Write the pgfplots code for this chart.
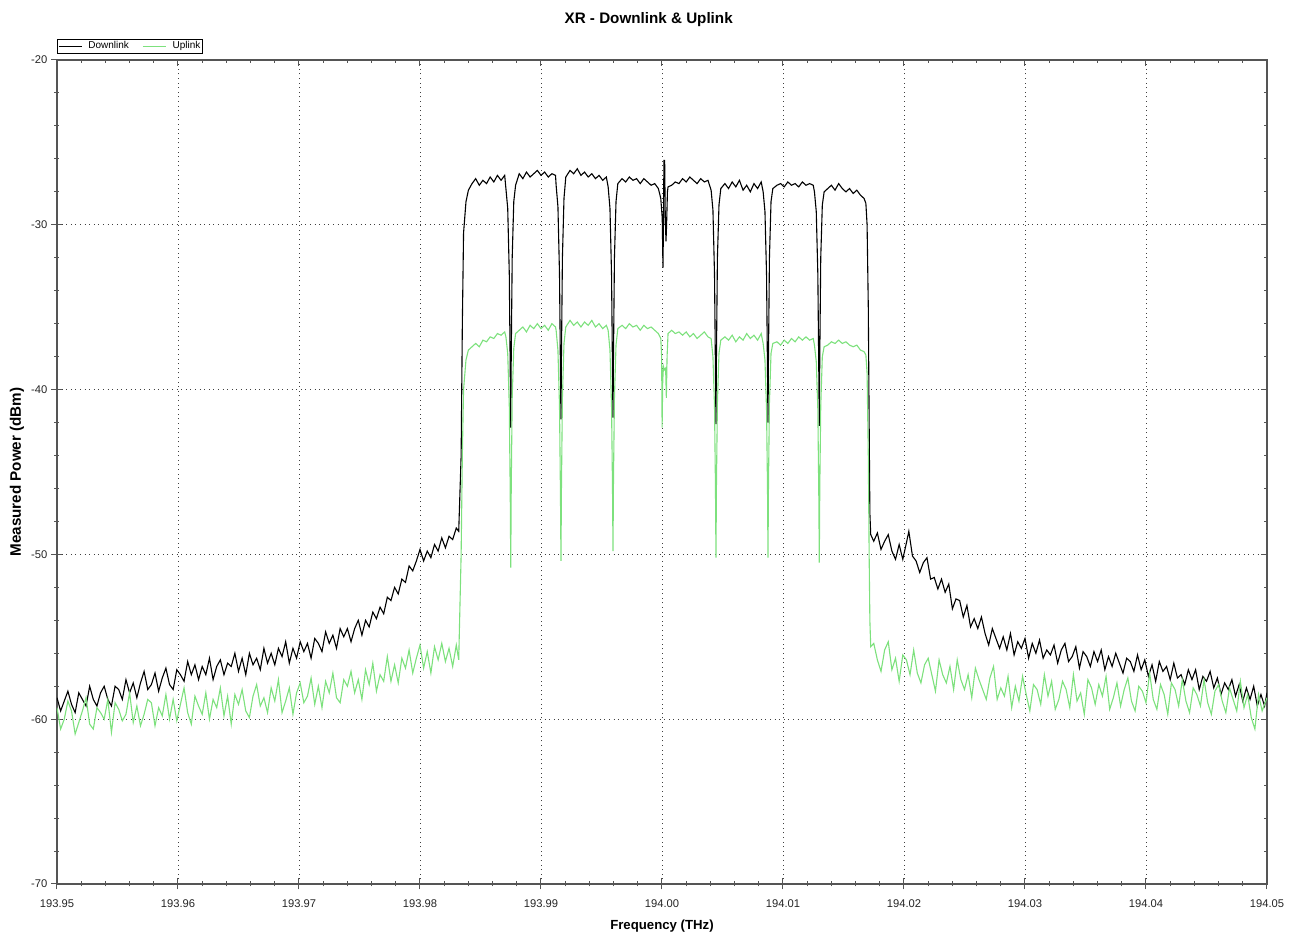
\documentclass[border=0pt]{standalone}
\usepackage{fontspec}
\setmainfont{Liberation Sans}
\usepackage{pgfplots}
\pgfplotsset{compat=1.18}
\definecolor{uplink}{RGB}{125,225,125}
\definecolor{axisgray}{RGB}{85,85,85}

\begin{document}
\begin{tikzpicture}
\useasboundingbox (-28.5pt,-26.5pt) rectangle (620.5pt,442pt);
% x is in GHz relative to 194.00 THz (keeps pgfplots precision)
\begin{axis}[
  scale only axis, width=605pt, height=412pt,
  xmin=-50, xmax=50, ymin=-70, ymax=-20,
  xtick={-50,-40,-30,-20,-10,0,10,20,30,40,50},
  xticklabels={193.95,193.96,193.97,193.98,193.99,194.00,194.01,194.02,194.03,194.04,194.05},
  ytick={-70,-60,-50,-40,-30,-20},
  yticklabels={-70,-60,-50,-40,-30,-20},
  minor x tick num=4, minor y tick num=4,
  tick pos=left,
  tick align=center,
  major tick length=5.5pt, minor tick length=2.5pt,
  tick style={axisgray, line width=0.5pt},
  axis line style={axisgray, line width=0.8pt},
  grid=major,
  grid style={black!75, line width=0.4pt, dash pattern=on 0.5pt off 1.8pt},
  tick label style={font=\fontsize{5.6}{6.5}\selectfont, text=black!85},
  xticklabel style={anchor=base, yshift=-9pt},
  yticklabel style={anchor=east, xshift=1.5pt},
  title={XR - Downlink \& Uplink},
  title style={font=\bfseries\fontsize{7.6}{9}\selectfont, at={(0.489,1)}, anchor=base, yshift=12pt},
  xlabel={Frequency (THz)},
  xlabel style={font=\bfseries\fontsize{6.6}{8}\selectfont, at={(0.5,0)}, anchor=base, yshift=-23pt},
  ylabel={Measured Power (dBm)},
  ylabel style={font=\bfseries\fontsize{7.6}{9}\selectfont, at={(0,0.5)}, anchor=center, yshift=20pt},
  legend style={at={(0,1)}, anchor=south west, yshift=3pt, draw=black, line width=0.4pt,
    font=\fontsize{5}{5.5}\selectfont, inner sep=0.3pt, row sep=0pt,
    nodes={inner sep=0.6pt},
    /tikz/every odd column/.append style={column sep=2.5pt},
    /tikz/every even column/.append style={column sep=6pt}},
  legend columns=2,
  legend image code/.code={\draw[#1, line width=0.6pt] (0pt,0pt) -- (11.5pt,0pt);},
]
% Downlink
\addplot[black, line width=0.55pt] coordinates {
(-50.0,-58.7) (-49.7,-59.5) (-49.4,-58.9) (-49.1,-58.3) (-48.8,-59.1) (-48.5,-59.6) (-48.2,-58.4) (-47.9,-58.8)
(-47.6,-59.2) (-47.3,-58.0) (-47.0,-58.8) (-46.7,-59.2) (-46.4,-58.4) (-46.1,-58.0) (-45.8,-58.8) (-45.5,-59.2)
(-45.2,-58.0) (-44.9,-58.2) (-44.6,-58.8) (-44.3,-57.6) (-44.0,-58.4) (-43.7,-57.8) (-43.4,-58.7) (-43.1,-57.8)
(-42.8,-57.1) (-42.5,-58.2) (-42.2,-57.9) (-41.9,-57.2) (-41.6,-58.3) (-41.3,-57.5) (-41.0,-56.9) (-40.7,-57.9)
(-40.4,-58.2) (-40.1,-57.0) (-39.8,-57.3) (-39.5,-57.7) (-39.2,-56.5) (-38.9,-57.3) (-38.6,-56.7) (-38.3,-57.6)
(-38.0,-56.8) (-37.7,-57.3) (-37.4,-56.3) (-37.1,-57.6) (-36.8,-56.8) (-36.5,-56.4) (-36.2,-57.3) (-35.9,-56.6)
(-35.6,-56.8) (-35.3,-56.0) (-35.0,-57.1) (-34.7,-56.3) (-34.4,-57.3) (-34.1,-56.0) (-33.8,-56.7) (-33.5,-56.3)
(-33.2,-57.0) (-32.9,-55.7) (-32.6,-56.6) (-32.3,-56.0) (-32.0,-56.7) (-31.7,-55.7) (-31.4,-56.2) (-31.1,-55.3)
(-30.8,-56.6) (-30.5,-55.7) (-30.2,-56.3) (-29.9,-55.3) (-29.6,-55.9) (-29.3,-55.4) (-29.0,-56.3) (-28.7,-55.1)
(-28.4,-55.4) (-28.1,-55.9) (-27.8,-54.7) (-27.5,-55.4) (-27.2,-54.9) (-26.9,-55.7) (-26.6,-54.5) (-26.3,-55.0)
(-26.0,-54.5) (-25.7,-55.3) (-25.4,-54.5) (-25.1,-54.0) (-24.8,-54.9) (-24.5,-54.0) (-24.2,-54.4) (-23.9,-53.5)
(-23.6,-53.9) (-23.3,-53.2) (-23.0,-53.6) (-22.7,-52.6) (-22.4,-52.8) (-22.1,-52.0) (-21.8,-52.4) (-21.5,-51.5)
(-21.2,-51.7) (-20.9,-50.7) (-20.6,-51.0) (-20.3,-50.4) (-20.0,-49.7) (-19.7,-50.4) (-19.4,-49.8) (-19.1,-50.2)
(-18.8,-49.4) (-18.5,-49.8) (-18.2,-49.0) (-17.9,-49.6) (-17.6,-48.9) (-17.3,-49.1) (-17.0,-48.4) (-16.8,-48.6)
(-16.6,-44.0) (-16.5,-36.0) (-16.4,-30.5) (-16.2,-28.6) (-16.0,-27.9) (-15.7,-27.5)
(-15.4,-27.2) (-15.1,-27.6) (-14.8,-27.3) (-14.5,-27.5) (-14.2,-27.1) (-13.9,-27.4) (-13.6,-27.0) (-13.3,-27.3) (-13.0,-27.0)
(-12.90,-27.8) (-12.75,-29.0) (-12.62,-33.0) (-12.54,-39.0) (-12.50,-42.3) (-12.46,-38.0) (-12.38,-32.0) (-12.25,-28.6) (-12.10,-27.6)
(-11.8,-26.9) (-11.5,-27.2) (-11.2,-26.8) (-10.9,-27.1) (-10.6,-26.9) (-10.3,-26.7) (-10.0,-27.0) (-9.7,-26.8) (-9.4,-27.1) (-9.1,-26.9) (-8.8,-27.0)
(-8.75,-27.6) (-8.60,-28.9) (-8.47,-33.0) (-8.39,-39.0) (-8.35,-41.8) (-8.31,-38.0) (-8.23,-32.0) (-8.10,-28.4) (-7.95,-27.1)
(-7.6,-26.7) (-7.3,-26.9) (-7.0,-26.6) (-6.7,-27.0) (-6.4,-26.8) (-6.1,-27.1) (-5.8,-26.9) (-5.5,-27.2) (-5.2,-27.0) (-4.9,-27.3) (-4.6,-27.1)
(-4.45,-27.7) (-4.30,-29.0) (-4.17,-33.0) (-4.09,-39.0) (-4.05,-41.7) (-4.01,-38.0) (-3.93,-32.0) (-3.80,-28.6) (-3.65,-27.5)
(-3.3,-27.2) (-3.0,-27.4) (-2.7,-27.1) (-2.4,-27.3) (-2.1,-27.2) (-1.8,-27.5) (-1.5,-27.2) (-1.2,-27.4) (-0.9,-27.6) (-0.6,-27.5) (-0.3,-27.8)
(-0.10,-28.4) (0.02,-29.6) (0.08,-32.6) (0.12,-30.0) (0.16,-26.1) (0.22,-26.1) (0.27,-29.5) (0.33,-31.0) (0.38,-30.0) (0.45,-28.0) (0.50,-27.7)
(0.8,-27.6) (1.1,-27.4) (1.4,-27.5) (1.7,-27.2) (2.0,-27.4) (2.3,-27.1) (2.6,-27.3) (2.9,-27.5) (3.2,-27.2) (3.5,-27.4) (3.8,-27.3)
(4.06,-27.9) (4.21,-29.1) (4.34,-33.0) (4.42,-39.0) (4.46,-42.1) (4.50,-38.0) (4.58,-32.0) (4.71,-28.8) (4.86,-27.8)
(5.2,-27.5) (5.5,-27.8) (5.8,-27.4) (6.1,-27.7) (6.4,-27.3) (6.7,-27.9) (7.0,-27.6) (7.3,-28.0) (7.6,-27.5) (7.9,-27.8) (8.2,-27.4)
(8.36,-28.0) (8.51,-29.2) (8.64,-33.0) (8.72,-39.0) (8.76,-42.0) (8.80,-38.0) (8.88,-32.0) (9.01,-28.6) (9.16,-27.8)
(9.5,-27.6) (9.8,-27.5) (10.1,-27.7) (10.4,-27.4) (10.7,-27.6) (11.0,-27.5) (11.3,-27.7) (11.6,-27.4) (11.9,-27.6) (12.2,-27.5) (12.5,-27.6)
(12.60,-28.0) (12.75,-29.2) (12.88,-33.0) (12.96,-39.0) (13.00,-42.2) (13.04,-38.0) (13.12,-32.0) (13.25,-28.8) (13.40,-28.0)
(13.7,-27.8) (14.0,-27.6) (14.3,-27.9) (14.6,-27.5) (14.9,-27.8) (15.2,-28.0) (15.5,-27.8) (15.8,-28.1) (16.1,-27.9) (16.4,-28.2) (16.7,-28.4) (16.85,-28.7)
(16.95,-30.0) (17.05,-35.0) (17.12,-42.0) (17.18,-47.5) (17.25,-48.8)
(17.5,-49.2) (17.8,-48.7) (18.1,-49.7) (18.4,-49.2) (18.7,-48.8) (19.0,-49.8) (19.3,-50.3) (19.6,-49.4)
(19.9,-50.3) (20.2,-49.3) (20.4,-48.6) (20.7,-50.1) (21.0,-50.4) (21.3,-51.1) (21.6,-50.5) (21.9,-50.2)
(22.2,-51.5) (22.5,-51.4) (22.8,-52.1) (23.1,-51.5) (23.4,-52.3) (23.7,-51.8) (24.0,-53.3) (24.3,-52.7)
(24.6,-52.8) (24.9,-53.8) (25.2,-53.1) (25.5,-54.4) (25.8,-53.9) (26.1,-54.5) (26.4,-53.8) (26.7,-54.8)
(27.0,-55.5) (27.3,-54.5) (27.6,-55.1) (27.9,-55.7) (28.2,-55.0) (28.5,-55.8) (28.8,-54.8) (29.1,-56.1)
(29.4,-55.3) (29.7,-55.7) (30.0,-55.1) (30.3,-56.3) (30.6,-55.4) (30.9,-56.0) (31.2,-55.2) (31.5,-56.3)
(31.8,-55.8) (32.1,-56.1) (32.4,-55.5) (32.7,-56.6) (33.0,-55.8) (33.3,-55.4) (33.6,-56.5) (33.9,-56.2)
(34.2,-55.6) (34.5,-56.9) (34.8,-55.9) (35.1,-56.2) (35.4,-56.8) (35.7,-55.9) (36.0,-56.5) (36.3,-55.8)
(36.6,-57.0) (36.9,-56.2) (37.2,-56.8) (37.5,-56.0) (37.8,-56.6) (38.1,-57.2) (38.4,-56.3) (38.7,-56.5)
(39.0,-57.1) (39.3,-56.1) (39.6,-57.0) (39.9,-56.4) (40.2,-57.4) (40.5,-56.7) (40.8,-57.7) (41.1,-56.5)
(41.4,-57.1) (41.7,-56.8) (42.0,-57.6) (42.3,-56.6) (42.6,-57.5) (42.9,-57.3) (43.2,-57.9) (43.5,-57.0)
(43.8,-57.6) (44.1,-57.0) (44.4,-58.2) (44.7,-57.4) (45.0,-57.7) (45.3,-57.1) (45.6,-58.1) (45.9,-57.5)
(46.2,-58.5) (46.5,-57.8) (46.8,-58.2) (47.1,-57.6) (47.4,-58.6) (47.7,-57.9) (48.0,-58.9) (48.3,-58.1)
(48.6,-58.8) (48.9,-58.0) (49.2,-59.2) (49.5,-58.5) (49.8,-59.2) (50.0,-58.4)
};
\addlegendentry{Downlink}
% Uplink
\addplot[uplink, line width=0.55pt] coordinates {
(-50.0,-59.3) (-49.7,-60.6) (-49.4,-60.0) (-49.1,-58.9) (-48.8,-59.5) (-48.5,-60.9) (-48.2,-60.2) (-47.9,-59.5)
(-47.6,-58.7) (-47.3,-60.3) (-47.0,-60.6) (-46.7,-59.3) (-46.4,-59.6) (-46.1,-60.0) (-45.8,-58.8) (-45.5,-60.8)
(-45.2,-59.0) (-44.9,-59.4) (-44.6,-60.1) (-44.3,-59.7) (-44.0,-58.4) (-43.7,-60.2) (-43.4,-59.2) (-43.1,-60.4)
(-42.8,-59.7) (-42.5,-58.8) (-42.2,-59.0) (-41.9,-60.4) (-41.6,-59.3) (-41.3,-59.8) (-41.0,-58.5) (-40.7,-60.0)
(-40.4,-58.8) (-40.1,-60.1) (-39.8,-59.1) (-39.5,-58.1) (-39.2,-59.6) (-38.9,-60.3) (-38.6,-58.6) (-38.3,-59.2)
(-38.0,-59.7) (-37.7,-58.4) (-37.4,-60.0) (-37.1,-58.8) (-36.8,-59.3) (-36.5,-58.1) (-36.2,-59.8) (-35.9,-58.6)
(-35.6,-60.3) (-35.3,-58.5) (-35.0,-59.1) (-34.7,-58.2) (-34.4,-59.5) (-34.1,-59.9) (-33.8,-58.6) (-33.5,-57.9)
(-33.2,-59.2) (-32.9,-58.7) (-32.6,-59.6) (-32.3,-58.1) (-32.0,-58.9) (-31.7,-57.6) (-31.4,-59.6) (-31.1,-58.9)
(-30.8,-58.1) (-30.5,-59.7) (-30.2,-58.4) (-29.9,-57.8) (-29.6,-59.0) (-29.3,-58.6) (-29.0,-57.5) (-28.7,-59.1)
(-28.4,-58.0) (-28.1,-59.3) (-27.8,-57.7) (-27.5,-58.4) (-27.2,-57.2) (-26.9,-58.7) (-26.6,-59.0) (-26.3,-57.6)
(-26.0,-58.0) (-25.7,-57.1) (-25.4,-58.4) (-25.1,-57.6) (-24.8,-58.8) (-24.5,-57.0) (-24.2,-57.9) (-23.9,-56.6)
(-23.6,-58.3) (-23.3,-57.3) (-23.0,-57.7) (-22.7,-56.2) (-22.4,-57.7) (-22.1,-56.7) (-21.8,-57.8) (-21.5,-56.3)
(-21.2,-56.9) (-20.9,-55.8) (-20.6,-57.2) (-20.3,-56.3) (-20.0,-55.5) (-19.7,-56.9) (-19.4,-55.9) (-19.1,-57.2)
(-18.8,-55.6) (-18.5,-56.4) (-18.2,-55.4) (-17.9,-56.5) (-17.6,-55.7) (-17.3,-56.8) (-17.0,-55.5) (-16.8,-56.4)
(-16.6,-50.0) (-16.5,-44.0) (-16.4,-40.0) (-16.2,-38.2) (-16.0,-37.6) (-15.7,-37.4)
(-15.4,-37.2) (-15.1,-37.4) (-14.8,-37.0) (-14.5,-37.1) (-14.2,-36.8) (-13.9,-36.9) (-13.6,-36.6) (-13.3,-36.7) (-13.0,-36.5)
(-12.90,-36.8) (-12.75,-37.8) (-12.62,-41.0) (-12.54,-46.5) (-12.50,-50.8) (-12.46,-46.0) (-12.38,-40.5) (-12.25,-37.5) (-12.10,-36.6)
(-11.8,-36.4) (-11.5,-36.2) (-11.2,-36.5) (-10.9,-36.1) (-10.6,-36.3) (-10.3,-36.0) (-10.0,-36.3) (-9.7,-36.1) (-9.4,-36.4) (-9.1,-36.0) (-8.8,-36.2)
(-8.75,-36.4) (-8.60,-37.6) (-8.47,-41.0) (-8.39,-46.5) (-8.35,-50.4) (-8.31,-46.0) (-8.23,-40.5) (-8.10,-37.2) (-7.95,-36.2)
(-7.6,-35.8) (-7.3,-36.1) (-7.0,-35.9) (-6.7,-36.2) (-6.4,-35.9) (-6.1,-36.1) (-5.8,-35.8) (-5.5,-36.2) (-5.2,-36.0) (-4.9,-36.3) (-4.6,-36.1)
(-4.45,-36.4) (-4.30,-37.6) (-4.17,-41.0) (-4.09,-46.0) (-4.05,-49.8) (-4.01,-45.5) (-3.93,-40.5) (-3.80,-37.3) (-3.65,-36.3)
(-3.3,-36.1) (-3.0,-36.3) (-2.7,-36.0) (-2.4,-36.2) (-2.1,-36.1) (-1.8,-36.4) (-1.5,-36.1) (-1.2,-36.3) (-0.9,-36.2) (-0.6,-36.4) (-0.3,-36.6)
(-0.10,-36.9) (-0.03,-38.0) (0.01,-42.3) (0.06,-39.5) (0.12,-38.6) (0.20,-38.8) (0.30,-38.7) (0.36,-40.5) (0.42,-38.0) (0.50,-36.6)
(0.8,-36.4) (1.1,-36.6) (1.4,-36.5) (1.7,-36.7) (2.0,-36.5) (2.3,-36.8) (2.6,-36.6) (2.9,-36.9) (3.2,-36.7) (3.5,-36.5) (3.8,-36.8)
(4.06,-36.9) (4.21,-38.0) (4.34,-41.0) (4.42,-46.0) (4.46,-50.2) (4.50,-45.8) (4.58,-40.8) (4.71,-37.8) (4.86,-37.0)
(5.2,-36.8) (5.5,-37.0) (5.8,-36.7) (6.1,-37.1) (6.4,-36.8) (6.7,-37.0) (7.0,-36.6) (7.3,-36.9) (7.6,-36.7) (7.9,-37.0) (8.2,-36.6)
(8.36,-37.2) (8.51,-38.2) (8.64,-41.2) (8.72,-46.0) (8.76,-50.2) (8.80,-45.8) (8.88,-40.8) (9.01,-37.8) (9.16,-37.2)
(9.5,-37.1) (9.8,-37.3) (10.1,-37.0) (10.4,-37.2) (10.7,-36.9) (11.0,-37.1) (11.3,-36.8) (11.6,-37.0) (11.9,-36.8) (12.2,-37.0) (12.5,-36.9)
(12.60,-37.3) (12.75,-38.3) (12.88,-41.2) (12.96,-46.5) (13.00,-50.5) (13.04,-46.0) (13.12,-41.0) (13.25,-38.0) (13.40,-37.4)
(13.7,-37.3) (14.0,-37.1) (14.3,-37.2) (14.6,-37.0) (14.9,-37.2) (15.2,-37.1) (15.5,-37.3) (15.8,-37.4) (16.1,-37.3) (16.4,-37.6) (16.7,-37.7) (16.85,-37.9)
(16.95,-39.0) (17.05,-44.0) (17.12,-50.0) (17.18,-54.0) (17.25,-55.6)
(17.5,-55.4) (17.8,-56.4) (18.1,-57.1) (18.4,-55.8) (18.7,-55.3) (19.0,-57.0) (19.3,-56.3) (19.6,-57.7)
(19.9,-56.1) (20.2,-56.4) (20.5,-57.3) (20.8,-55.8) (21.1,-57.2) (21.4,-57.8) (21.7,-56.7) (22.0,-56.3)
(22.3,-57.3) (22.6,-58.3) (22.9,-56.4) (23.2,-57.3) (23.5,-57.8) (23.8,-56.8) (24.1,-58.2) (24.4,-56.4)
(24.7,-57.6) (25.0,-58.2) (25.3,-57.3) (25.6,-58.7) (25.9,-56.9) (26.2,-57.6) (26.5,-58.2) (26.8,-58.8)
(27.1,-57.5) (27.4,-56.8) (27.7,-58.8) (28.0,-58.1) (28.3,-58.6) (28.6,-57.4) (28.9,-59.3) (29.2,-58.0)
(29.5,-58.9) (29.8,-57.4) (30.1,-58.5) (30.4,-59.5) (30.7,-57.9) (31.0,-58.2) (31.3,-59.1) (31.6,-57.3)
(31.9,-58.6) (32.2,-57.7) (32.5,-59.4) (32.8,-58.8) (33.1,-57.7) (33.4,-58.2) (33.7,-59.3) (34.0,-57.3)
(34.3,-58.9) (34.6,-58.4) (34.9,-59.7) (35.2,-57.6) (35.5,-58.1) (35.8,-59.1) (36.1,-57.9) (36.4,-58.6)
(36.7,-57.4) (37.0,-59.4) (37.3,-58.7) (37.6,-57.8) (37.9,-59.2) (38.2,-58.2) (38.5,-57.5) (38.8,-58.9)
(39.1,-59.5) (39.4,-58.0) (39.7,-58.3) (40.0,-59.0) (40.3,-57.2) (40.6,-58.8) (40.9,-59.4) (41.2,-57.9)
(41.5,-58.5) (41.8,-59.7) (42.1,-57.8) (42.4,-58.2) (42.7,-59.2) (43.0,-57.6) (43.3,-58.9) (43.6,-59.6)
(43.9,-58.1) (44.2,-58.5) (44.5,-59.2) (44.8,-57.6) (45.1,-59.0) (45.4,-59.7) (45.7,-58.3) (46.0,-57.9)
(46.3,-58.9) (46.6,-59.6) (46.9,-58.1) (47.2,-58.8) (47.5,-59.5) (47.8,-57.7) (48.1,-59.3) (48.4,-58.5)
(48.7,-59.9) (49.0,-60.6) (49.3,-58.5) (49.6,-59.5) (50.0,-58.7)
};
\addlegendentry{Uplink}
\end{axis}
% top and right ticks point inward
\begin{axis}[
  scale only axis, width=605pt, height=412pt,
  xmin=-50, xmax=50, ymin=-70, ymax=-20,
  xtick={-50,-40,-30,-20,-10,0,10,20,30,40,50},
  ytick={-70,-60,-50,-40,-30,-20},
  xticklabels={}, yticklabels={},
  minor x tick num=4, minor y tick num=4,
  tick pos=right, tick align=inside,
  major tick length=3pt, minor tick length=1.5pt,
  tick style={axisgray, line width=0.5pt},
  axis line style={draw=none},
]
\end{axis}
\end{tikzpicture}
\end{document}
